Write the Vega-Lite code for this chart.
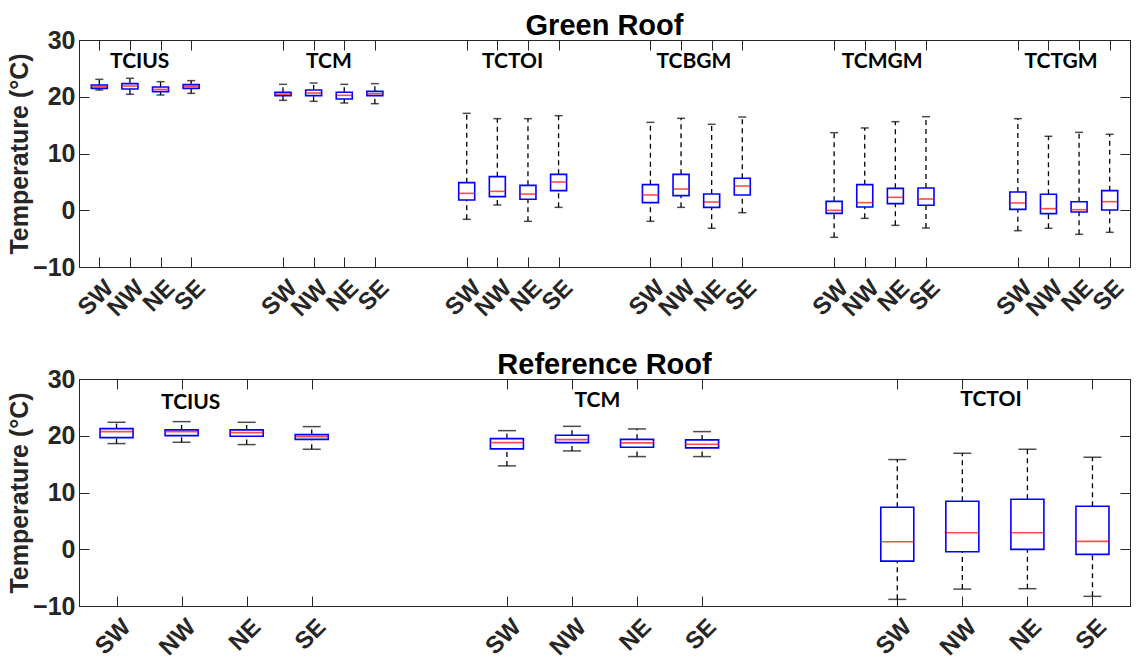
{
  "$schema": "https://vega.github.io/schema/vega-lite/v6.json",
  "background": "white",
  "padding": {"left": 6, "top": 11, "right": 3, "bottom": 0},
  "spacing": 28,
  "config": {
    "view": {"stroke": "#262626", "strokeWidth": 1},
    "axis": {
      "grid": false,
      "domainColor": "#262626",
      "tickColor": "#262626",
      "labelColor": "#262626",
      "titleColor": "#262626",
      "labelFont": "Liberation Sans",
      "labelFontWeight": "bold",
      "titleFont": "Liberation Sans",
      "titleFontWeight": "bold",
      "tickSize": -10,
      "tickWidth": 1,
      "domainWidth": 1
    },
    "title": {"font": "Liberation Sans", "fontWeight": "bold", "fontSize": 29, "color": "black", "frame": "group", "anchor": "middle", "offset": -13}
  },
  "datasets": {
    "green": [
      {"group": "TCIUS", "dir": "SW", "pos": 1, "lo": 21.19, "q1": 21.48, "med": 21.77, "q3": 22.07, "hi": 23.07},
      {"group": "TCIUS", "dir": "NW", "pos": 2, "lo": 20.43, "q1": 21.37, "med": 21.89, "q3": 22.31, "hi": 23.25},
      {"group": "TCIUS", "dir": "NE", "pos": 3, "lo": 20.31, "q1": 20.9, "med": 21.3, "q3": 21.72, "hi": 22.66},
      {"group": "TCIUS", "dir": "SE", "pos": 4, "lo": 20.6, "q1": 21.48, "med": 21.84, "q3": 22.13, "hi": 22.84},
      {"group": "TCM", "dir": "SW", "pos": 7, "lo": 19.37, "q1": 20.19, "med": 20.48, "q3": 20.78, "hi": 22.19},
      {"group": "TCM", "dir": "NW", "pos": 8, "lo": 19.19, "q1": 20.19, "med": 20.66, "q3": 21.19, "hi": 22.42},
      {"group": "TCM", "dir": "NE", "pos": 9, "lo": 18.9, "q1": 19.6, "med": 20.25, "q3": 20.78, "hi": 22.19},
      {"group": "TCM", "dir": "SE", "pos": 10, "lo": 18.78, "q1": 20.19, "med": 20.54, "q3": 20.95, "hi": 22.31},
      {"group": "TCTOI", "dir": "SW", "pos": 13, "lo": -1.6, "q1": 1.81, "med": 2.98, "q3": 4.86, "hi": 17.08},
      {"group": "TCTOI", "dir": "NW", "pos": 14, "lo": 0.93, "q1": 2.4, "med": 3.33, "q3": 5.92, "hi": 16.14},
      {"group": "TCTOI", "dir": "NE", "pos": 15, "lo": -1.95, "q1": 1.93, "med": 2.86, "q3": 4.39, "hi": 16.14},
      {"group": "TCTOI", "dir": "SE", "pos": 16, "lo": 0.51, "q1": 3.45, "med": 4.98, "q3": 6.33, "hi": 16.67},
      {"group": "TCBGM", "dir": "SW", "pos": 19, "lo": -1.95, "q1": 1.34, "med": 2.69, "q3": 4.51, "hi": 15.49},
      {"group": "TCBGM", "dir": "NW", "pos": 20, "lo": 0.51, "q1": 2.57, "med": 3.74, "q3": 6.33, "hi": 16.2},
      {"group": "TCBGM", "dir": "NE", "pos": 21, "lo": -3.18, "q1": 0.51, "med": 1.45, "q3": 2.86, "hi": 15.14},
      {"group": "TCBGM", "dir": "SE", "pos": 22, "lo": -0.43, "q1": 2.69, "med": 4.27, "q3": 5.63, "hi": 16.43},
      {"group": "TCMGM", "dir": "SW", "pos": 25, "lo": -4.77, "q1": -0.55, "med": -0.02, "q3": 1.57, "hi": 13.67},
      {"group": "TCMGM", "dir": "NW", "pos": 26, "lo": -1.43, "q1": 0.57, "med": 1.34, "q3": 4.51, "hi": 14.5},
      {"group": "TCMGM", "dir": "NE", "pos": 27, "lo": -2.66, "q1": 1.16, "med": 2.28, "q3": 3.86, "hi": 15.61},
      {"group": "TCMGM", "dir": "SE", "pos": 28, "lo": -3.13, "q1": 0.87, "med": 1.98, "q3": 3.92, "hi": 16.49},
      {"group": "TCTGM", "dir": "SW", "pos": 31, "lo": -3.6, "q1": 0.16, "med": 1.28, "q3": 3.22, "hi": 16.14},
      {"group": "TCTGM", "dir": "NW", "pos": 32, "lo": -3.18, "q1": -0.6, "med": 0.28, "q3": 2.81, "hi": 13.03},
      {"group": "TCTGM", "dir": "NE", "pos": 33, "lo": -4.24, "q1": -0.31, "med": 0.1, "q3": 1.51, "hi": 13.73},
      {"group": "TCTGM", "dir": "SE", "pos": 34, "lo": -3.89, "q1": 0.04, "med": 1.51, "q3": 3.45, "hi": 13.38}
    ],
    "ref": [
      {"group": "TCIUS", "dir": "SW", "pos": 1, "lo": 18.62, "q1": 19.67, "med": 20.73, "q3": 21.26, "hi": 22.37},
      {"group": "TCIUS", "dir": "NW", "pos": 2, "lo": 18.85, "q1": 20.02, "med": 20.73, "q3": 21.03, "hi": 22.49},
      {"group": "TCIUS", "dir": "NE", "pos": 3, "lo": 18.44, "q1": 19.9, "med": 20.55, "q3": 21.03, "hi": 22.37},
      {"group": "TCIUS", "dir": "SE", "pos": 4, "lo": 17.62, "q1": 19.37, "med": 19.85, "q3": 20.2, "hi": 21.61},
      {"group": "TCM", "dir": "SW", "pos": 7, "lo": 14.69, "q1": 17.68, "med": 18.79, "q3": 19.5, "hi": 20.9},
      {"group": "TCM", "dir": "NW", "pos": 8, "lo": 17.33, "q1": 18.79, "med": 19.32, "q3": 20.08, "hi": 21.66},
      {"group": "TCM", "dir": "NE", "pos": 9, "lo": 16.33, "q1": 17.97, "med": 18.74, "q3": 19.37, "hi": 21.2},
      {"group": "TCM", "dir": "SE", "pos": 10, "lo": 16.33, "q1": 17.86, "med": 18.5, "q3": 19.27, "hi": 20.73},
      {"group": "TCTOI", "dir": "SW", "pos": 13, "lo": -8.83, "q1": -2.09, "med": 1.32, "q3": 7.41, "hi": 15.8},
      {"group": "TCTOI", "dir": "NW", "pos": 14, "lo": -7.02, "q1": -0.44, "med": 2.91, "q3": 8.47, "hi": 16.91},
      {"group": "TCTOI", "dir": "NE", "pos": 15, "lo": -6.95, "q1": -0.03, "med": 2.91, "q3": 8.82, "hi": 17.62},
      {"group": "TCTOI", "dir": "SE", "pos": 16, "lo": -8.3, "q1": -0.91, "med": 1.38, "q3": 7.59, "hi": 16.21}
    ],
    "greenLabels": [
      {"label": "TCIUS", "lx": 2.32, "ly": 25.1},
      {"label": "TCM", "lx": 8.5, "ly": 25.1},
      {"label": "TCTOI", "lx": 14.5, "ly": 25.1},
      {"label": "TCBGM", "lx": 20.42, "ly": 25.1},
      {"label": "TCMGM", "lx": 26.57, "ly": 25.1},
      {"label": "TCTGM", "lx": 32.41, "ly": 25.1}
    ],
    "refLabels": [
      {"label": "TCIUS", "lx": 2.14, "ly": 24.75},
      {"label": "TCM", "lx": 8.39, "ly": 25.0},
      {"label": "TCTOI", "lx": 14.44, "ly": 25.3}
    ]
  },
  "vconcat": [
    {
      "title": {"text": "Green Roof"},
      "width": 1051,
      "height": 227,
      "data": {"name": "green"},
      "resolve": {"axis": {"x": "independent", "y": "independent"}},
      "layer": [
        {
          "mark": {"type": "rule", "color": "black", "strokeWidth": 1.3, "strokeDash": [5, 4]},
          "encoding": {
            "x": {"field": "pos", "type": "quantitative", "scale": {"domain": [0.5, 34.5], "nice": false, "zero": false}, "axis": null},
            "y": {"field": "lo", "type": "quantitative", "scale": {"domain": [-10, 30], "nice": false, "zero": false}, "axis": null},
            "y2": {"field": "q1"}
          }
        },
        {
          "mark": {"type": "rule", "color": "black", "strokeWidth": 1.3, "strokeDash": [5, 4]},
          "encoding": {
            "x": {"field": "pos", "type": "quantitative", "axis": null},
            "y": {"field": "q3", "type": "quantitative", "axis": null},
            "y2": {"field": "hi"}
          }
        },
        {
          "mark": {"type": "tick", "orient": "horizontal", "size": 8, "thickness": 1.5, "color": "black"},
          "encoding": {
            "x": {"field": "pos", "type": "quantitative", "axis": null},
            "y": {"field": "hi", "type": "quantitative", "axis": null}
          }
        },
        {
          "mark": {"type": "tick", "orient": "horizontal", "size": 8, "thickness": 1.5, "color": "black"},
          "encoding": {
            "x": {"field": "pos", "type": "quantitative", "axis": null},
            "y": {"field": "lo", "type": "quantitative", "axis": null}
          }
        },
        {
          "mark": {"type": "bar", "size": 16, "fill": "white", "stroke": "#0000FF", "strokeWidth": 1.6},
          "encoding": {
            "x": {"field": "pos", "type": "quantitative",
              "axis": {"orient": "bottom", "values": [1,2,3,4,7,8,9,10,13,14,15,16,19,20,21,22,25,26,27,28,31,32,33,34],
                "labelExpr": "(datum.value-1)%6==0?'SW':(datum.value-1)%6==1?'NW':(datum.value-1)%6==2?'NE':'SE'",
                "labelAngle": -45, "labelAlign": "right", "labelBaseline": "middle", "labelFontSize": 24,
                "labelPadding": 27, "labelOffset": 10, "labelOverlap": false, "labelFlush": false, "title": null,
                "minExtent": 40, "maxExtent": 40}},
            "y": {"field": "q1", "type": "quantitative",
              "axis": {"orient": "left", "values": [-10, 0, 10, 20, 30], "labelFontSize": 25, "labelPadding": 14,
                "title": "Temperature (°C)", "titleFontSize": 25, "titlePadding": 3, "minExtent": 44, "maxExtent": 44}},
            "y2": {"field": "q3"}
          }
        },
        {
          "mark": {"type": "tick", "orient": "horizontal", "size": 16, "thickness": 1.6, "color": "#FF0000"},
          "encoding": {
            "x": {"field": "pos", "type": "quantitative",
              "axis": {"orient": "top", "values": [1,2,3,4,7,8,9,10,13,14,15,16,19,20,21,22,25,26,27,28,31,32,33,34], "labels": false, "title": null, "minExtent": 0, "maxExtent": 0}},
            "y": {"field": "med", "type": "quantitative",
              "axis": {"orient": "right", "values": [-10, 0, 10, 20, 30], "labels": false, "title": null, "minExtent": 0, "maxExtent": 0}}
          }
        },
        {
          "data": {"name": "greenLabels"},
          "mark": {"type": "text", "font": "Lato", "fontWeight": "bold", "fontSize": 21, "color": "black", "align": "center", "baseline": "alphabetic"},
          "encoding": {
            "x": {"field": "lx", "type": "quantitative", "axis": null},
            "y": {"field": "ly", "type": "quantitative", "axis": null},
            "text": {"field": "label"}
          }
        }
      ]
    },
    {
      "title": {"text": "Reference Roof"},
      "width": 1051,
      "height": 227,
      "data": {"name": "ref"},
      "resolve": {"axis": {"x": "independent", "y": "independent"}},
      "layer": [
        {
          "mark": {"type": "rule", "color": "black", "strokeWidth": 1.3, "strokeDash": [5, 4]},
          "encoding": {
            "x": {"field": "pos", "type": "quantitative", "scale": {"domain": [0.5, 16.5], "nice": false, "zero": false}, "axis": null},
            "y": {"field": "lo", "type": "quantitative", "scale": {"domain": [-10, 30], "nice": false, "zero": false}, "axis": null},
            "y2": {"field": "q1"}
          }
        },
        {
          "mark": {"type": "rule", "color": "black", "strokeWidth": 1.3, "strokeDash": [5, 4]},
          "encoding": {
            "x": {"field": "pos", "type": "quantitative", "axis": null},
            "y": {"field": "q3", "type": "quantitative", "axis": null},
            "y2": {"field": "hi"}
          }
        },
        {
          "mark": {"type": "tick", "orient": "horizontal", "size": 18, "thickness": 1.5, "color": "black"},
          "encoding": {
            "x": {"field": "pos", "type": "quantitative", "axis": null},
            "y": {"field": "hi", "type": "quantitative", "axis": null}
          }
        },
        {
          "mark": {"type": "tick", "orient": "horizontal", "size": 18, "thickness": 1.5, "color": "black"},
          "encoding": {
            "x": {"field": "pos", "type": "quantitative", "axis": null},
            "y": {"field": "lo", "type": "quantitative", "axis": null}
          }
        },
        {
          "mark": {"type": "bar", "size": 33, "fill": "white", "stroke": "#0000FF", "strokeWidth": 1.6},
          "encoding": {
            "x": {"field": "pos", "type": "quantitative",
              "axis": {"orient": "bottom", "values": [1,2,3,4,7,8,9,10,13,14,15,16],
                "labelExpr": "(datum.value-1)%6==0?'SW':(datum.value-1)%6==1?'NW':(datum.value-1)%6==2?'NE':'SE'",
                "labelAngle": -45, "labelAlign": "right", "labelBaseline": "middle", "labelFontSize": 24,
                "labelPadding": 27, "labelOffset": 10, "labelOverlap": false, "labelFlush": false, "title": null,
                "minExtent": 40, "maxExtent": 40}},
            "y": {"field": "q1", "type": "quantitative",
              "axis": {"orient": "left", "values": [-10, 0, 10, 20, 30], "labelFontSize": 25, "labelPadding": 14,
                "title": "Temperature (°C)", "titleFontSize": 25, "titlePadding": 3, "minExtent": 44, "maxExtent": 44}},
            "y2": {"field": "q3"}
          }
        },
        {
          "mark": {"type": "tick", "orient": "horizontal", "size": 33, "thickness": 1.6, "color": "#FF0000"},
          "encoding": {
            "x": {"field": "pos", "type": "quantitative",
              "axis": {"orient": "top", "values": [1,2,3,4,7,8,9,10,13,14,15,16], "labels": false, "title": null, "minExtent": 0, "maxExtent": 0}},
            "y": {"field": "med", "type": "quantitative",
              "axis": {"orient": "right", "values": [-10, 0, 10, 20, 30], "labels": false, "title": null, "minExtent": 0, "maxExtent": 0}}
          }
        },
        {
          "data": {"name": "refLabels"},
          "mark": {"type": "text", "font": "Lato", "fontWeight": "bold", "fontSize": 21, "color": "black", "align": "center", "baseline": "alphabetic"},
          "encoding": {
            "x": {"field": "lx", "type": "quantitative", "axis": null},
            "y": {"field": "ly", "type": "quantitative", "axis": null},
            "text": {"field": "label"}
          }
        }
      ]
    }
  ]
}
